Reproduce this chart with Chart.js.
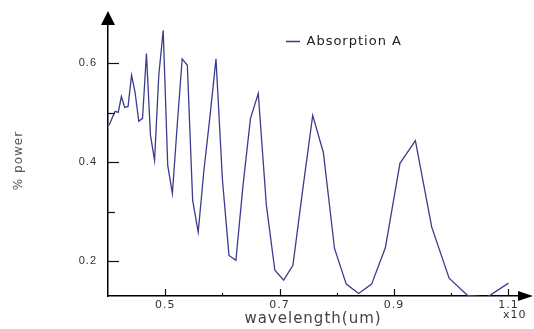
<!DOCTYPE html>
<html>
<head>
<meta charset="utf-8">
<script src="https://cdn.jsdelivr.net/npm/chart.js@4.4.1/dist/chart.umd.min.js"></script>
<style>
body { margin: 0; background: #fff; }
</style>
</head>
<body>
<canvas id="absorption_chart" width="534" height="329"></canvas>
<script>
// values
var wavelength = [
    0.4019, 0.4071, 0.4124, 0.4179, 0.4234, 0.4292, 0.4351, 0.4412, 0.4474, 0.4538,
    0.4604, 0.4672, 0.4742, 0.4814, 0.4888, 0.4965, 0.5044, 0.5126, 0.5210, 0.5297,
    0.5387, 0.5480, 0.5577, 0.5677, 0.5780, 0.5888, 0.6000, 0.6115, 0.6236, 0.6361,
    0.6491, 0.6627, 0.6769, 0.6917, 0.7071, 0.7233, 0.7402, 0.7579, 0.7765, 0.7960,
    0.8165, 0.8381, 0.8609, 0.8850, 0.9104, 0.9374, 0.9660, 0.9964, 1.0287, 1.0633,
    1.1002
];
var absorption = [
    0.475, 0.489, 0.503, 0.501, 0.533, 0.511, 0.513, 0.576, 0.541, 0.483,
    0.489, 0.620, 0.455, 0.404, 0.576, 0.667, 0.394, 0.337, 0.475, 0.609,
    0.596, 0.323, 0.259, 0.384, 0.490, 0.609, 0.366, 0.212, 0.202, 0.354,
    0.489, 0.539, 0.313, 0.182, 0.162, 0.192, 0.343, 0.495, 0.420, 0.226,
    0.154, 0.135, 0.154, 0.228, 0.398, 0.444, 0.269, 0.166, 0.131, 0.128,
    0.156
];
var xTickLabels = ['0.5', '0.7', '0.9', '1.1'];
var yTickLabels = ['0.2', '0.4', '0.6'];

var lineColor = '#3c3c8c';

Chart.defaults.font.family = '"DejaVu Sans", sans-serif';

// inward tick marks, arrow heads and the exponent note
var axisDecor = {
    id: 'axisDecor',
    beforeLayout: function (chart) {
        chart.ctx.letterSpacing = '1px';
    },
    afterLayout: function (chart) {
        // legend sits inside the plot, to the right of centre
        var legend = chart.legend;
        var area = chart.chartArea;
        legend.left = area.left + 168;
        legend.right = legend.left + legend.width;
        legend.top = area.top;
        legend.bottom = legend.top + legend.height;
    },
    beforeDraw: function (chart) {
        chart.ctx.letterSpacing = '1px';
    },
    afterDraw: function (chart) {
        var ctx = chart.ctx;
        var area = chart.chartArea;
        var x = chart.scales.x;
        var y = chart.scales.y;
        ctx.save();
        ctx.strokeStyle = '#111';
        ctx.lineWidth = 1.2;
        y.ticks.forEach(function (t) {
            var py = Math.round(y.getPixelForValue(t.value)) + 0.5;
            var len = yTickLabels.indexOf(t.value.toFixed(1)) >= 0 ? 11 : 7;
            ctx.beginPath();
            ctx.moveTo(area.left, py);
            ctx.lineTo(area.left + len, py);
            ctx.stroke();
        });
        x.ticks.forEach(function (t) {
            if (t.value < x.min + 1e-6) return;
            var px = Math.round(x.getPixelForValue(t.value)) + 0.5;
            var len = xTickLabels.indexOf(t.value.toFixed(1)) >= 0 ? 7 : 3;
            ctx.beginPath();
            ctx.moveTo(px, area.bottom);
            ctx.lineTo(px, area.bottom - len);
            ctx.stroke();
        });
        ctx.fillStyle = '#000';
        ctx.beginPath();
        ctx.moveTo(area.left, area.top - 14);
        ctx.lineTo(area.left - 7, area.top);
        ctx.lineTo(area.left + 7, area.top);
        ctx.closePath();
        ctx.fill();
        ctx.beginPath();
        ctx.moveTo(area.right + 15, area.bottom);
        ctx.lineTo(area.right, area.bottom - 5);
        ctx.lineTo(area.right, area.bottom + 5);
        ctx.closePath();
        ctx.fill();
        ctx.font = '11px "DejaVu Sans"';
        ctx.fillStyle = '#333';
        ctx.textBaseline = 'middle';
        ctx.letterSpacing = '1px';
        ctx.fillText('x10', area.right - 15, area.bottom + 19);
        ctx.restore();
    }
};

var absorption_chart = new Chart(document.getElementById('absorption_chart'), {
    type: 'line',
    data: {
        datasets: [{
            label: 'Absorption A',
            data: wavelength.map(function (w, i) { return { x: w, y: absorption[i] }; }),
            borderColor: lineColor,
            backgroundColor: lineColor,
            borderWidth: 1.3,
            pointRadius: 0,
            tension: 0,
            fill: false
        }]
    },
    options: {
        responsive: false,
        animation: false,
        layout: {
            padding: { top: 25, right: 16, bottom: 0, left: 0 }
        },
        scales: {
            x: {
                type: 'linear',
                min: 0.4,
                max: 1.1168,
                border: { display: true, color: '#000', width: 1.5 },
                grid: { display: false, drawTicks: false },
                ticks: {
                    stepSize: 0.1,
                    includeBounds: false,
                    autoSkip: false,
                    maxRotation: 0,
                    padding: 3,
                    color: '#333',
                    font: { size: 11 },
                    callback: function (v) {
                        var s = Number(v).toFixed(1);
                        return xTickLabels.indexOf(s) >= 0 ? s : '';
                    }
                },
                title: {
                    display: true,
                    text: 'wavelength(um)',
                    color: '#444',
                    font: { size: 15 },
                    padding: { top: 0, bottom: 1 }
                },
                afterFit: function (scale) { scale.height = 33; }
            },
            y: {
                min: 0.13,
                max: 0.6775,
                border: { display: true, color: '#000', width: 1.5 },
                grid: { display: false, drawTicks: false },
                ticks: {
                    stepSize: 0.1,
                    includeBounds: false,
                    autoSkip: false,
                    padding: 11,
                    color: '#333',
                    font: { family: '"Liberation Sans", sans-serif', size: 11 },
                    callback: function (v) {
                        var s = Number(v).toFixed(1);
                        return yTickLabels.indexOf(s) >= 0 ? s : '';
                    }
                },
                title: {
                    display: true,
                    text: '% power',
                    color: '#555',
                    font: { size: 12 },
                    padding: { top: 12, bottom: 0 }
                },
                afterFit: function (scale) { scale.width = 108; }
            }
        },
        plugins: {
            legend: {
                position: 'chartArea',
                align: 'start',
                labels: {
                    boxWidth: 14,
                    boxHeight: 0,
                    padding: 10,
                    color: '#222',
                    font: { size: 13 }
                }
            },
            tooltip: { enabled: false }
        }
    },
    plugins: [axisDecor]
});
</script>
</body>
</html>
